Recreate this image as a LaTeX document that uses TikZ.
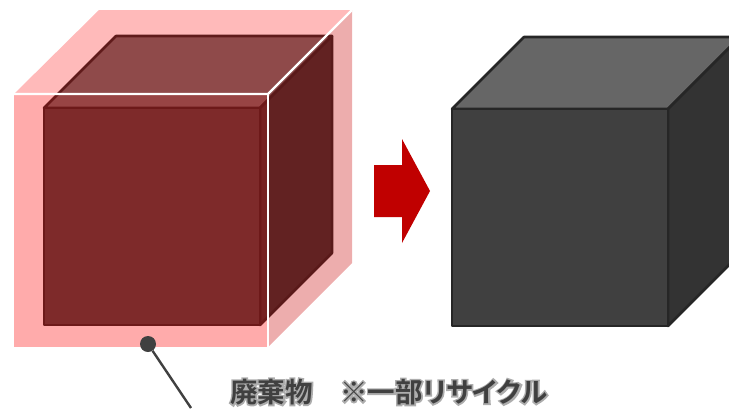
\documentclass[tikz,border=0pt]{standalone}
\usepackage{fontspec}
\usetikzlibrary{shapes,positioning,calc}
\newfontfamily\jpfont[RawFeature=+palt]{Noto Sans CJK JP Bold}
\definecolor{cubeLine}{HTML}{262626}
\definecolor{arrowRed}{HTML}{C00000}
\definecolor{labelGray}{HTML}{404040}
\newcommand{\glowtext}[1]{\rlap{\special{pdf:code q 1 Tr 3.2 w 0.68 G}#1\special{pdf:code Q}}#1}
\newcommand{\darkcube}[2]{%
  \begin{scope}[shift={(#1,#2)}]
    \draw [cubeFace,fill=cubeTop] (0,0) -- (72,-72) -- (288,-72) -- (216,0) -- cycle;
    \draw [cubeFace,fill=cubeRight] (216,0) -- (288,-72) -- (288,145) -- (216,217) -- cycle;
    \draw [cubeFace,fill=cubeFront] (0,0) rectangle (216,217);
  \end{scope}}
\definecolor{cubeTop}{HTML}{666666}
\definecolor{cubeFront}{HTML}{404040}
\definecolor{cubeRight}{HTML}{333333}

\begin{document}
\begin{tikzpicture}
  [x=1pt,y=-1pt,
   cubeFace/.style={draw=cubeLine,line width=2.6pt,line join=round},
   wallFace/.style={fill opacity=0.33},
   whiteEdge/.style={draw=white,line width=2.2pt},
   labelText/.style={font=\jpfont\fontsize{27.5}{30}\selectfont,text=labelGray,inner sep=0pt,anchor=west}]

  \useasboundingbox (0,0) rectangle (729,408);

  % contents and the finished block
  \darkcube{44}{108}
  \darkcube{452}{109}

  % waste layer around the first block
  \fill [wallFace,red,fill opacity=0.27] (14,94) -- (99,10) -- (352,10) -- (268,94) -- cycle;
  \fill [wallFace,red!78!black,fill opacity=0.32] (268,94) -- (352,10) -- (352,263) -- (268,347) -- cycle;
  \fill [wallFace,red] (14,94) rectangle (268,347);
  \draw [whiteEdge] (14,94) -- (268,94) -- (352,10);
  \draw [whiteEdge] (268,94) -- (268,347);

  % arrow
  \fill [arrowRed] (374,165) -- (402,165) -- (402,139) -- (430,191) -- (402,243) -- (402,217) -- (374,217) -- cycle;

  % label
  \node [circle,fill=labelGray,inner sep=0pt,minimum size=16pt] (dot) at (148,344) {};
  \coordinate (lineEnd) at (191,408);
  \draw [labelGray,line width=2.4pt] (dot) -- (lineEnd);
  \node [labelText] (waste) at (230,392) {\glowtext{廃棄物　※一部リサイクル}};

\end{tikzpicture}
\end{document}
